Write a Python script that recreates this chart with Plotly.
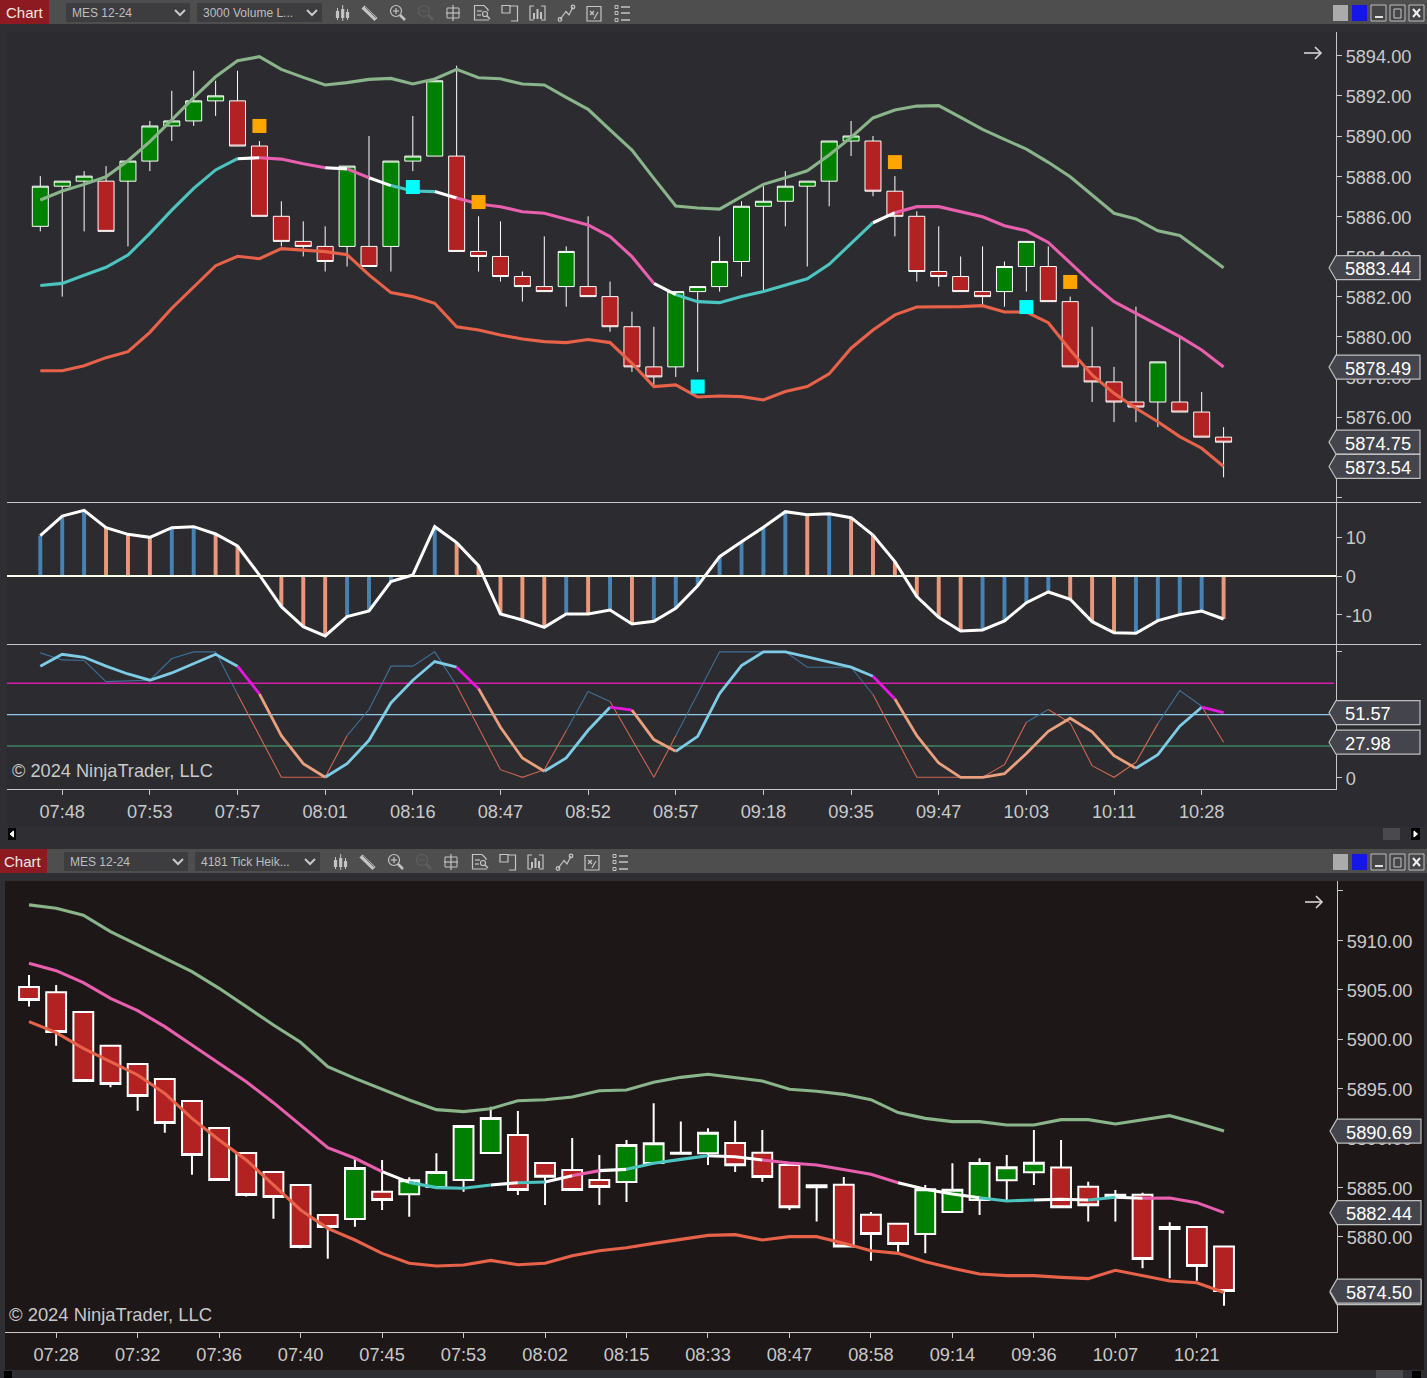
import plotly.graph_objects as go

W, H = 1427, 1378
FONT = "Liberation Sans"

# ---------- top chart data ----------
a_open = [5885.5,5887.5,5887.75,5887.75,5887.75,5888.75,5890.5,5890.75,5891.75,5891.75,5889.5,5886,5884.75,5884.5,5884.5,5884.5,5884.5,5888.75,5889,5889,5884.25,5884,5883,5882.5,5882.5,5882.5,5882,5880.5,5878.5,5878.5,5882.25,5882.5,5883.75,5886.5,5886.75,5887.5,5887.75,5889.75,5889.75,5887.25,5886,5883.25,5883,5882.25,5882.25,5883.5,5883.5,5881.75,5878.5,5877.75,5876.75,5876.75,5876.75,5876.25,5875]
a_high = [5888,5887.75,5888.25,5888.5,5888.75,5890.75,5892.25,5893.25,5892.75,5893.25,5889.75,5886.75,5885.75,5885.5,5888.5,5890,5888.75,5891,5892.75,5893.5,5886,5885.75,5883.25,5885,5884.5,5886,5882.75,5881.25,5880.5,5882.25,5882.5,5885,5886.75,5887.5,5888.25,5887.75,5889.75,5890.75,5890,5888,5886.25,5885.5,5884,5884.5,5883.75,5884.75,5884.5,5882,5880.5,5878.5,5881.5,5878.75,5880,5877.25,5875.5]
a_low = [5885.25,5882,5885.25,5885.25,5884.5,5888.25,5889.75,5890.5,5891,5889.5,5886,5884.5,5884,5883.25,5883.5,5883.5,5883.25,5888.25,5889,5884.25,5883.25,5882.75,5881.75,5882.25,5881.5,5882,5880.25,5878.25,5877.5,5878,5878.25,5882.25,5883,5882.25,5885.5,5883.5,5886.5,5889,5887,5885,5882.75,5882.5,5882.25,5881.5,5881.5,5882.25,5881.75,5878.5,5876.75,5875.75,5875.75,5875.5,5876.25,5875,5873]
a_close = [5887.5,5887.75,5888,5885.25,5888.75,5890.5,5890.75,5891.75,5892,5889.5,5886,5884.75,5884.5,5883.75,5888.5,5883.5,5888.75,5889,5892.75,5884.25,5884,5883,5882.5,5882.25,5884.25,5882,5880.5,5878.5,5878,5882.25,5882.5,5883.75,5886.5,5886.75,5887.5,5887.75,5889.75,5890,5887.25,5886,5883.25,5883,5882.25,5882,5883.5,5884.75,5881.75,5878.5,5877.75,5876.75,5876.5,5878.75,5876.25,5875,5874.75]
a_upper = [5886.81,5887.26,5887.59,5887.97,5888.77,5889.72,5890.80,5891.91,5892.95,5893.75,5893.95,5893.32,5892.92,5892.54,5892.66,5892.82,5892.87,5892.59,5892.84,5893.32,5892.90,5892.85,5892.59,5892.54,5891.92,5891.33,5890.30,5889.30,5887.89,5886.51,5886.41,5886.36,5886.98,5887.59,5887.92,5888.27,5889.05,5889.93,5890.90,5891.29,5891.49,5891.51,5890.93,5890.33,5889.83,5889.35,5888.69,5887.97,5887.06,5886.15,5885.87,5885.28,5885.05,5884.24,5883.44]
a_mid = [5882.55,5882.66,5883.06,5883.46,5884.07,5885.15,5886.31,5887.39,5888.31,5888.87,5888.92,5888.85,5888.62,5888.42,5888.36,5887.92,5887.53,5887.26,5887.23,5886.91,5886.61,5886.48,5886.23,5886.15,5885.85,5885.57,5884.99,5883.99,5882.66,5882.10,5881.75,5881.70,5882.00,5882.25,5882.58,5882.89,5883.61,5884.65,5885.68,5886.18,5886.48,5886.48,5886.23,5885.98,5885.53,5885.28,5884.70,5883.66,5882.66,5881.75,5881.17,5880.59,5880.01,5879.34,5878.49]
a_lower = [5878.31,5878.31,5878.56,5878.96,5879.26,5880.22,5881.42,5882.50,5883.54,5884.01,5883.89,5884.39,5884.31,5884.24,5884.09,5883.08,5882.20,5882.00,5881.67,5880.50,5880.34,5880.09,5879.89,5879.76,5879.71,5879.86,5879.71,5878.68,5877.52,5877.60,5877.00,5877.05,5877.02,5876.85,5877.27,5877.52,5878.15,5879.43,5880.34,5881.09,5881.48,5881.48,5881.50,5881.55,5881.23,5881.23,5880.70,5879.34,5878.10,5877.18,5876.44,5875.77,5875.03,5874.45,5873.54]
a_mid_segs = [(0,9,'teal'),(9,10,'white'),(10,13,'pink'),(13,14,'white'),(14,15,'pink'),(15,16,'white'),(16,18,'teal'),(18,19,'white'),(19,28,'pink'),(28,29,'white'),(29,38,'teal'),(38,39,'white'),(39,54,'pink')]
orange_idx = [10,20,39,47]
orange_val = [5890.50,5886.71,5888.70,5882.73]
cyan_idx = [17,30,45]
cyan_val = [5887.46,5877.52,5881.48]
a_tick_pos = [1,5,9,13,17,21,25,29,33,37,41,45,49,53]
a_tick_txt = ['07:48','07:53','07:57','08:01','08:16','08:47','08:52','08:57','09:18','09:35','09:47','10:03','10:11','10:28']
a_price_ticks = [5872,5874,5876,5878,5880,5882,5884,5886,5888,5890,5892,5894]
a_tags = [5883.44,5878.49,5874.75,5873.54]

macd = [10.34,15.38,16.84,12.39,10.68,9.91,12.39,12.65,10.77,7.69,0.25,-7.86,-12.99,-15.38,-10.43,-8.97,-1.45,0.26,12.65,8.55,2.65,-9.74,-11.28,-13.16,-9.74,-9.74,-8.72,-12.31,-11.62,-8.29,-2.48,4.96,8.8,12.48,16.5,15.73,15.98,14.96,10.51,3.68,-5.3,-10.6,-14.1,-13.85,-11.54,-6.84,-4.1,-5.98,-11.71,-14.53,-14.7,-11.45,-9.91,-8.97,-11.03]
macd_up = [1,1,1,0,0,0,1,1,0,0,0,0,0,0,1,1,1,1,1,0,0,0,0,0,1,0,1,0,1,1,1,1,1,1,1,0,1,0,0,0,0,0,0,1,1,1,1,0,0,0,1,1,1,1,0]
macd_ticks = [-10,0,10]

stoch_k = [99.2,93.6,93.1,76.3,76.9,77.4,94.7,100,100,66.2,33.2,0,0,0,33.2,54.0,88.6,88.6,100,73.1,39.6,6.1,0,6.1,37.2,68.4,60.4,30.1,0,33.2,66.5,100,100,100,100,87.8,87.8,87.8,66.0,33.2,0,0,0,0,10.1,43.9,54.0,43.4,9.3,0,12.0,42.8,69.1,56.6,27.98]
stoch_d = [88.6,98.1,95.7,88.6,82.4,77.4,83.2,90.4,98.1,88.6,66.5,33.2,10.9,0,10.9,29.5,59.3,77.4,92.3,87.8,70.7,39.9,15.4,4.8,15.4,37.5,55.9,53.5,30.1,20.7,32.7,66.8,89.1,100,100,96,92,87.8,80.6,62.5,33.2,11.4,0,0,2.9,18.9,36.7,47.1,36.2,17.3,7.2,18.1,40.7,55.9,51.57]
k_segs = [(0,9,'blue'),(9,14,'rust'),(14,19,'blue'),(19,24,'rust'),(24,26,'blue'),(26,29,'rust'),(29,38,'blue'),(38,45,'rust'),(45,46,'blue'),(46,51,'rust'),(51,53,'blue'),(53,54,'rust')]
d_segs = [(0,9,'sky'),(9,10,'mag'),(10,13,'salmon'),(13,19,'sky'),(19,20,'mag'),(20,23,'salmon'),(23,26,'sky'),(26,27,'mag'),(27,29,'salmon'),(29,38,'sky'),(38,39,'mag'),(39,50,'salmon'),(50,53,'sky'),(53,54,'mag')]
stoch_levels = [75,50,25]
stoch_level_colors = ['#d41fa6','#8fcbe6','#3f8460']
stoch_level_widths = [1.5,1.1,1.5]
stoch_ticks = [0,100]
stoch_tags = [51.57,27.98]

# ---------- bottom chart data ----------
b_open = [5905.28,5904.74,5902.75,5899.34,5897.48,5895.96,5893.74,5891.01,5888.47,5886.55,5885.24,5882.2,5881.8,5884.56,5884.29,5885.03,5885.74,5888.47,5890.3,5887.46,5886.75,5885.74,5885.54,5887.46,5888.5,5888.44,5889.49,5888.51,5887.26,5885.2,5885.27,5882.23,5881.32,5880.28,5882.5,5883.72,5885.71,5886.52,5887.0,5885.07,5884.25,5884.26,5880.98,5880.99,5879.0]
b_high = [5906.49,5905.48,5902.75,5899.34,5897.48,5895.96,5893.74,5891.01,5888.47,5886.55,5885.24,5882.2,5887.94,5887.77,5886.01,5888.44,5891.21,5893.16,5892.73,5887.46,5889.99,5888.27,5889.79,5893.5,5891.65,5890.97,5891.75,5890.8,5887.26,5885.2,5886.05,5882.5,5881.32,5885.24,5887.43,5887.94,5888.27,5890.8,5889.79,5885.57,5884.73,5884.46,5881.46,5880.99,5879.0]
b_low = [5903.29,5899.34,5895.76,5895.12,5892.76,5890.53,5886.28,5885.74,5884.06,5881.83,5878.83,5877.78,5881.02,5882.71,5882.03,5885.03,5884.56,5888.47,5884.22,5883.21,5884.73,5883.21,5883.52,5887.46,5888.4,5887.26,5886.55,5885.57,5882.71,5881.53,5879.0,5877.58,5878.49,5878.32,5882.5,5882.2,5883.72,5885.24,5882.98,5881.53,5881.53,5876.8,5875.79,5875.55,5873.02]
b_close = [5903.96,5900.72,5895.76,5895.46,5894.24,5891.51,5888.27,5885.74,5884.22,5884.02,5878.96,5880.99,5886.96,5883.72,5885.71,5886.55,5891.21,5892.02,5884.73,5886.08,5884.73,5885.03,5889.28,5889.45,5888.4,5890.53,5887.23,5886.05,5882.98,5885.0,5879.0,5880.28,5879.26,5884.8,5884.76,5887.46,5887.02,5887.5,5882.98,5883.18,5884.05,5877.75,5880.78,5877.04,5874.5]
b_upper = [5913.58,5913.24,5912.53,5910.88,5909.53,5908.18,5906.83,5905.14,5903.29,5901.43,5899.68,5897.21,5896.03,5894.92,5893.84,5892.86,5892.66,5892.96,5893.77,5893.87,5894.14,5894.78,5894.85,5895.63,5896.13,5896.44,5896.07,5895.76,5894.92,5894.72,5894.41,5893.87,5892.56,5891.98,5891.65,5891.65,5891.31,5891.31,5891.85,5891.85,5891.41,5891.82,5892.25,5891.51,5890.69]
b_mid = [5907.67,5906.93,5905.72,5904.13,5902.88,5901.26,5899.41,5897.55,5895.69,5893.57,5891.31,5889.01,5887.94,5886.59,5885.5,5884.97,5884.9,5885.24,5885.47,5885.54,5886.18,5886.69,5886.82,5887.43,5887.83,5888.2,5888.1,5887.77,5887.46,5887.26,5886.82,5886.32,5885.47,5884.8,5884.32,5883.95,5883.62,5883.72,5883.79,5883.72,5883.99,5883.89,5883.92,5883.45,5882.44]
b_lower = [5901.77,5900.65,5899.07,5897.72,5896.37,5894.51,5891.98,5889.79,5887.77,5885.24,5882.71,5880.85,5879.67,5878.32,5877.31,5877.04,5877.14,5877.61,5877.17,5877.31,5878.08,5878.59,5878.89,5879.33,5879.77,5880.14,5880.21,5879.67,5880.01,5880.01,5879.33,5878.59,5878.32,5877.48,5876.8,5876.23,5876.06,5876.06,5875.89,5875.76,5876.6,5876.06,5875.52,5875.35,5874.35]
b_mid_segs = [(0,13,'pink'),(13,14,'white'),(14,17,'teal'),(17,18,'white'),(18,19,'teal'),(19,20,'white'),(20,21,'pink'),(21,22,'white'),(22,25,'teal'),(25,27,'white'),(27,32,'pink'),(32,35,'white'),(35,37,'teal'),(37,39,'white'),(39,40,'teal'),(40,41,'white'),(41,44,'pink')]
b_tick_pos = [1,4,7,10,13,16,19,22,25,28,31,34,37,40,43]
b_tick_txt = ['07:28','07:32','07:36','07:40','07:45','07:53','08:02','08:15','08:33','08:47','08:58','09:14','09:36','10:07','10:21']
b_price_ticks = [5875,5880,5885,5890,5895,5900,5905,5910,5915]
b_tags = [5890.69,5882.44,5874.50]
b_under_tag = 5874.35

# ---------- styling ----------
COL = dict(teal='#4cc4c0', white='#ffffff', pink='#e85fae', upper='#8ab48a', lower='#e8624a',
           blue='#3f6f96', rust='#cf6650', sky='#7ecbe6', mag='#e816e0', salmon='#e9a07e')
CHROME = '#2f2f33'
PANE_A = '#2b2b30'
PANE_B = '#1e1718'
BAR = '#4e4e4e'
AXIS = '#c8c8c8'
TXT = '#c9c9c9'

def X(p): return p / W
def Y(p): return 1 - p / H

shapes, notes = [], []

def rect(x0, y0, x1, y1, fill, line=None, lw=1, layer='below'):
    shapes.append(dict(type='rect', xref='paper', yref='paper', x0=X(x0), y0=Y(y0), x1=X(x1), y1=Y(y1),
                       fillcolor=fill, line=dict(color=line or 'rgba(0,0,0,0)', width=lw if line else 0), layer=layer))

def poly(points, color, lw=1.2, fill=None, close=False):
    d = 'M ' + ' L '.join(f'{X(a):.5f} {Y(b):.5f}' for a, b in points) + (' Z' if close else '')
    shapes.append(dict(type='path', xref='paper', yref='paper', path=d, layer='above',
                       line=dict(color=color, width=lw), fillcolor=fill or 'rgba(0,0,0,0)'))

def circ(cx, cy, r, color, lw=1.2):
    shapes.append(dict(type='circle', xref='paper', yref='paper', x0=X(cx-r), x1=X(cx+r), y0=Y(cy+r), y1=Y(cy-r),
                       line=dict(color=color, width=lw), layer='above'))

def txt(x, y, s, size, color=TXT, anchor='left', yref='paper', yshift=0):
    notes.append(dict(x=X(x), xref='paper', y=(Y(y) if yref == 'paper' else y), yref=yref, text=s, showarrow=False,
                      xanchor=anchor, yanchor='middle', font=dict(family=FONT, size=size, color=color),
                      borderpad=0, borderwidth=0, yshift=yshift))

def toolbar(y0, dx, label):
    rect(0, y0, W, y0 + 24, BAR)
    rect(0, y0, 49 + dx, y0 + 24, '#8d1a20')
    txt(6 + dx, y0 + 12.5, 'Chart', 15, '#f0e6e6')
    for a, b, s in [(66, 190, 'MES 12-24'), (197, 322, label)]:
        rect(a + dx, y0 + 3, b + dx, y0 + 22, '#3d3d40')
        txt(a + 6 + dx, y0 + 13, s, 12, '#bdbdbd')
        c = b - 10 + dx
        poly([(c - 5, y0 + 10), (c, y0 + 15), (c + 5, y0 + 10)], '#c8c8c8', 2)
    g = '#c4c4c4'
    t = lambda a, b: (a + dx, b + y0)
    for a, b0, b1, c0, c1 in [(337.5, 8, 20, 11, 18), (342.7, 5, 21, 9, 18), (347.5, 9, 20, 12, 18)]:
        poly([t(a, b0), t(a, b1)], g, 1)
        poly([t(a, c0), t(a, c1)], g, 3.2)
    poly([t(363, 7), t(376, 19.5)], g, 4.5)
    poly([t(365, 7), t(376, 18)], '#4e4e4e', 0.8)
    circ(396 + dx, y0 + 11, 5.5, g); poly([t(400, 15), t(405, 20)], g, 2.5)
    poly([t(393, 11), t(399, 11)], g); poly([t(396, 8), t(396, 14)], g)
    dim = '#5f5f5f'
    circ(424 + dx, y0 + 11, 5.5, dim); poly([t(428, 15), t(433, 20)], dim, 2.5)
    poly([t(421, 11), t(427, 11)], dim)
    rect(447 + dx, y0 + 8, 459 + dx, y0 + 18, 'rgba(0,0,0,0)', g, 1, 'above')
    poly([t(453, 5), t(453, 21)], g); poly([t(446, 13), t(460, 13)], g)
    poly([t(489, 20), t(474.5, 20), t(474.5, 5.5), t(484, 5.5), t(488, 9.5), t(488, 11)], g, 1.2)
    poly([t(477, 11), t(482, 11)], g); poly([t(477, 15), t(481, 15)], g)
    circ(485 + dx, y0 + 14, 2.5, g); poly([t(487, 16), t(490, 19)], g, 1.4)
    rect(502 + dx, y0 + 5.5, 510 + dx, y0 + 13, 'rgba(0,0,0,0)', g, 1.2, 'above')
    poly([t(510, 6), t(517.5, 6), t(517.5, 21), t(511, 21)], g)
    poly([t(534, 20), t(530, 20), t(530, 6), t(534, 6)], g); poly([t(541, 6), t(545, 6), t(545, 20), t(541, 20)], g)
    for a, b in [(534, 13), (537.5, 9), (541, 12)]:
        poly([t(a, b), t(a, 19)], g, 2)
    poly([t(560, 19.5), t(566, 11.5), t(569, 15), t(573, 7)], g); circ(560 + dx, y0 + 19.5, 1.8, g); circ(573 + dx, y0 + 7, 1.8, g)
    poly([t(587, 6.5), t(601, 6.5), t(601, 21), t(587, 21)], g, 1.2, close=True)
    poly([t(590, 11), t(594, 15)], g); poly([t(594, 11), t(590, 15)], g); poly([t(594, 19), t(598, 12)], g)
    for b in (7, 13, 20):
        rect(615 + dx, y0 + b - 1.5, 618 + dx, y0 + b + 1.5, 'rgba(0,0,0,0)', g, 1, 'above')
        poly([t(621, b), t(630, b)], g, 1.5)
    bx = [1341, 1360, 1379, 1398, 1417]
    rect(bx[0] - 8, y0 + 5, bx[0] + 7, y0 + 21, '#ababab')
    rect(bx[1] - 8, y0 + 5, bx[1] + 7, y0 + 21, '#1616e6', layer='above')
    for c in bx[2:]:
        rect(c - 8, y0 + 5, c + 7, y0 + 21, '#454548', '#bdbdbd', 1)
    poly([(bx[2] - 4, y0 + 17), (bx[2] + 4, y0 + 17)], '#e0e0e0', 2)
    rect(bx[3] - 4, y0 + 9, bx[3] + 3, y0 + 18, 'rgba(0,0,0,0)', '#c8c8c8', 1, 'above')
    poly([(bx[4] - 4, y0 + 9), (bx[4] + 3, y0 + 17)], '#eeeeee', 2)
    poly([(bx[4] + 3, y0 + 9), (bx[4] - 4, y0 + 17)], '#eeeeee', 2)

# chrome
rect(0, 0, W, H, CHROME)
rect(7, 32, 1425, 827, PANE_A)
rect(5, 881, 1424, 1370, PANE_B)
toolbar(0, 0, '3000 Volume L...')
toolbar(849, -2, '4181 Tick Heik...')
rect(1383, 828, 1400, 840, '#4a4a4e', layer='above')
rect(8, 828, 16, 840, '#000000', layer='above')
rect(1411, 828, 1420, 840, '#000000', layer='above')
poly([(13.5, 831), (10, 834), (13.5, 837)], '#ffffff', 1, '#ffffff', True)
poly([(1414, 831), (1417.5, 834), (1414, 837)], '#ffffff', 1, '#ffffff', True)
rect(1376, 1370, 1403, 1378, '#4a4a4e', layer='above')
rect(4, 1371, 12, 1378, '#000000', layer='above')
rect(1412, 1371, 1421, 1378, '#000000', layer='above')

# separators
for yy in (502.5, 644.5):
    shapes.append(dict(type='line', xref='paper', yref='paper', x0=X(7), x1=X(1421), y0=Y(yy), y1=Y(yy),
                       line=dict(color=AXIS, width=1), layer='above'))

# arrows, copyright
for ax, ay in [(1313, 53), (1314, 902)]:
    poly([(ax - 9, ay), (ax + 8, ay)], '#d6d6d6', 1.6)
    poly([(ax + 2, ay - 6), (ax + 8, ay), (ax + 2, ay + 6)], '#d6d6d6', 1.6)
txt(12, 770.5, '\u00a9 2024 NinjaTrader, LLC', 18.2)
txt(9, 1314.5, '\u00a9 2024 NinjaTrader, LLC', 18.4)

def tag(value, yref, x_edge, label=True):
    path = 'M -7 0 L 0 12 L 84 12 L 84 -12 L 0 -12 Z'
    shapes.append(dict(type='path', path=path, xref='paper', yref=yref, xsizemode='pixel', ysizemode='pixel',
                       xanchor=X(x_edge), yanchor=value, fillcolor='#44454c', line=dict(color='#bdbdbd', width=1.2),
                       layer='above'))
    if label:
        txt(x_edge + 8.5, value, f'{value:.2f}', 18.3, '#ffffff', yref=yref, yshift=-1)

for v in a_tags: tag(v, 'y', 1336)
for v in stoch_tags: tag(v, 'y3', 1336)
tag(b_under_tag, 'y4', 1337, label=False)
for v in b_tags: tag(v, 'y4', 1337)
for lv, c, w in zip(stoch_levels, stoch_level_colors, stoch_level_widths):
    shapes.append(dict(type='line', xref='paper', yref='y3', x0=X(7), x1=X(1334), y0=lv, y1=lv,
                       line=dict(color=c, width=w), layer='below'))

fig = go.Figure()
idx_a = list(range(len(a_open)))
idx_b = list(range(len(b_open)))
GREEN, RED = '#008000', '#b22222'

def candles(x, o, h, l, c, lw, xa, ya):
    fig.add_trace(go.Candlestick(x=x, open=o, high=h, low=l, close=c, whiskerwidth=0, xaxis=xa, yaxis=ya,
        increasing=dict(line=dict(color='#ffffff', width=lw), fillcolor=GREEN),
        decreasing=dict(line=dict(color='#ffffff', width=lw), fillcolor=RED), hoverinfo='skip', showlegend=False))

def line(x, y, color, width, xa, ya):
    fig.add_trace(go.Scatter(x=x, y=y, mode='lines', line=dict(color=color, width=width), xaxis=xa, yaxis=ya,
                             hoverinfo='skip', showlegend=False, connectgaps=False))

def segments(x, y, segs, width, xa, ya):
    for key in dict.fromkeys(s[2] for s in segs):
        xs, ys = [], []
        for a, b, k in segs:
            if k == key:
                xs += x[a:b + 1] + [None]
                ys += y[a:b + 1] + [None]
        line(xs, ys, COL[key], width, xa, ya)

ra, rb = [-1.52, 59.13], [-0.884, 48.16]

# top price pane
candles(idx_a, a_open, a_high, a_low, a_close, 1, 'x', 'y')
line(idx_a, a_upper, COL['upper'], 3.1, 'x', 'y')
line(idx_a, a_lower, COL['lower'], 3.1, 'x', 'y')
segments(idx_a, a_mid, a_mid_segs, 3.1, 'x', 'y')
fig.add_trace(go.Scatter(x=orange_idx, y=orange_val, mode='markers', xaxis='x', yaxis='y', hoverinfo='skip', showlegend=False,
                         marker=dict(symbol='square', size=14, color='#ffa500', line=dict(width=0))))
fig.add_trace(go.Scatter(x=cyan_idx, y=cyan_val, mode='markers', xaxis='x', yaxis='y', hoverinfo='skip', showlegend=False,
                         marker=dict(symbol='square', size=14, color='#00ffff', line=dict(width=0))))

# MACD pane
fig.add_trace(go.Bar(x=idx_a, y=macd, width=0.18, xaxis='x2', yaxis='y2', hoverinfo='skip', showlegend=False,
                     marker=dict(color=['#4682b4' if u else '#e9967a' for u in macd_up], line=dict(width=0))))
line(ra, [0, 0], '#fffde8', 2.2, 'x2', 'y2')
line(idx_a, macd, '#ffffff', 3, 'x2', 'y2')

# stochastic pane
segments(idx_a, stoch_k, k_segs, 1.1, 'x3', 'y3')
segments(idx_a, stoch_d, d_segs, 2.8, 'x3', 'y3')

# bottom chart
candles(idx_b, b_open, b_high, b_low, b_close, 2, 'x4', 'y4')
line(idx_b, b_upper, COL['upper'], 3.1, 'x4', 'y4')
line(idx_b, b_lower, COL['lower'], 3.1, 'x4', 'y4')
segments(idx_b, b_mid, b_mid_segs, 3.1, 'x4', 'y4')

tickfont = dict(family=FONT, size=18.2, color=TXT)
def xax(dom, rng, anchor, pos=None, txtv=None):
    d = dict(domain=[X(dom[0]), X(dom[1])], range=rng, anchor=anchor, showgrid=False, zeroline=False, fixedrange=True,
             rangeslider=dict(visible=False), showticklabels=False, ticks='', showline=False)
    if pos:
        d.update(tickmode='array', tickvals=pos, ticktext=txtv, ticks='outside', ticklen=5, tickcolor=AXIS, tickwidth=1,
                 showticklabels=True, tickfont=tickfont, showline=True, linecolor=AXIS, linewidth=1, ticklabelstandoff=1)
    return d

def yax(y0, y1, rng, anchor, vals, text):
    return dict(domain=[Y(y1), Y(y0)], range=rng, anchor=anchor, side='right', showgrid=False, zeroline=False,
                fixedrange=True, tickmode='array', tickvals=vals, ticktext=text, ticks='outside', ticklen=5,
                tickcolor=AXIS, tickwidth=1, tickfont=tickfont, showline=True, linecolor=AXIS, linewidth=1,
                ticklabelshift=1)

fig.update_layout(
    width=W, height=H, margin=dict(l=0, r=0, t=0, b=0, pad=0), autosize=False,
    paper_bgcolor=CHROME, plot_bgcolor='rgba(0,0,0,0)', showlegend=False, hovermode=False,
    boxgap=0.27, boxgroupgap=0, boxmode='overlay', dragmode=False,
    xaxis=xax((7, 1336), ra, 'y'),
    xaxis2=xax((7, 1336), ra, 'y2'),
    xaxis3=xax((7, 1336), ra, 'y3', a_tick_pos, a_tick_txt),
    xaxis4=xax((5, 1337), rb, 'y4', b_tick_pos, b_tick_txt),
    yaxis=yax(32, 502, [5871.77, 5895.18], 'x', a_price_ticks, [''] + [f'{v:.2f}' for v in a_price_ticks[1:]]),
    yaxis2=yax(503, 644, [-17.44, 18.72], 'x2', macd_ticks, [str(v) for v in macd_ticks]),
    yaxis3=yax(645, 789, [-9.32, 105.48], 'x3', stoch_ticks, ['0', '']),
    yaxis4=yax(881, 1332, [5870.36, 5916.0], 'x4', b_price_ticks, [f'{v:.2f}' for v in b_price_ticks[:-1]] + ['']),
    shapes=shapes, annotations=notes,
)

fig.write_html("out.html", config=dict(displayModeBar=False, staticPlot=True),
               post_script="document.body.style.margin='0';document.documentElement.style.overflow='hidden';")
